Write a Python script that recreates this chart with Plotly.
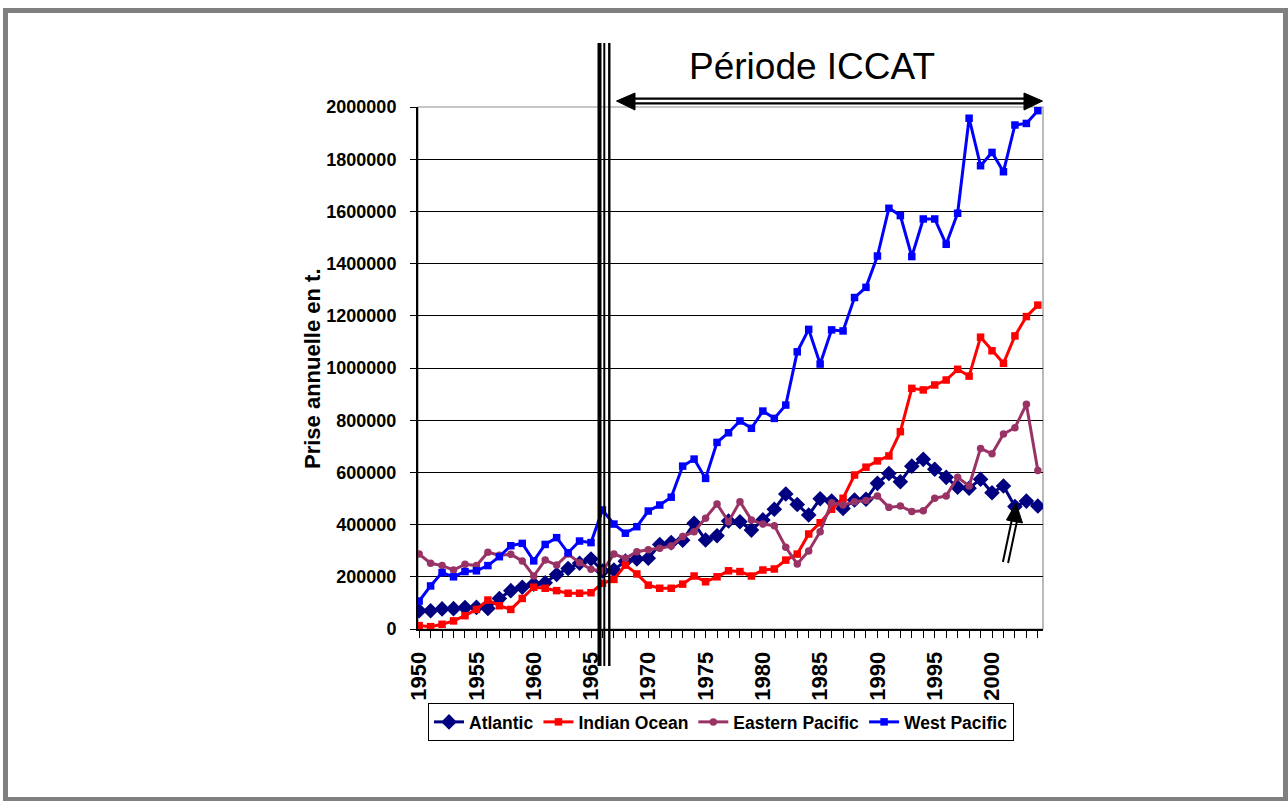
import plotly.graph_objects as go

years = list(range(1950, 2005))

atlantic = [70000, 70000, 77000, 78000, 82000, 83000, 79000, 117000, 147000, 160000,
            172000, 177000, 209000, 232000, 252000, 268000, 222000, 226000, 260000, 268000,
            271000, 324000, 331000, 340000, 405000, 341000, 357000, 414000, 411000, 379000,
            418000, 459000, 517000, 477000, 437000, 499000, 490000, 462000, 494000, 497000,
            558000, 596000, 564000, 624000, 650000, 612000, 581000, 543000, 539000, 574000,
            522000, 548000, 469000, 490000, 471000]

indian = [13000, 9000, 18000, 31000, 51000, 75000, 111000, 89000, 75000, 117000,
          160000, 156000, 147000, 137000, 137000, 139000, 175000, 190000, 245000, 211000,
          168000, 156000, 156000, 172000, 203000, 181000, 200000, 223000, 220000, 203000,
          226000, 230000, 264000, 287000, 364000, 407000, 459000, 501000, 590000, 620000,
          644000, 663000, 756000, 922000, 916000, 935000, 954000, 995000, 969000, 1118000,
          1066000, 1018000, 1123000, 1197000, 1241000]

east_pac = [287000, 252000, 243000, 226000, 248000, 243000, 294000, 283000, 286000, 261000,
            203000, 264000, 245000, 287000, 254000, 229000, 222000, 287000, 271000, 296000,
            304000, 309000, 318000, 354000, 373000, 424000, 479000, 411000, 488000, 418000,
            402000, 396000, 313000, 249000, 299000, 373000, 484000, 475000, 488000, 492000,
            510000, 466000, 471000, 450000, 453000, 501000, 510000, 581000, 548000, 692000,
            671000, 747000, 771000, 861000, 607000]

west_pac = [107000, 165000, 216000, 200000, 220000, 223000, 243000, 277000, 319000, 328000,
            261000, 324000, 350000, 292000, 337000, 331000, 456000, 402000, 367000, 392000,
            452000, 475000, 505000, 624000, 651000, 577000, 715000, 752000, 797000, 769000,
            835000, 807000, 858000, 1062000, 1148000, 1015000, 1146000, 1142000, 1270000, 1309000,
            1429000, 1612000, 1584000, 1427000, 1571000, 1571000, 1474000, 1593000, 1957000, 1775000,
            1826000, 1752000, 1931000, 1937000, 1986000]

series_names = ["Atlantic", "Indian Ocean", "Eastern Pacific", "West Pacific"]
series_values = [atlantic, indian, east_pac, west_pac]
series_colors = ["#000080", "#FF0000", "#993366", "#0000FF"]
series_symbols = ["diamond", "square", "circle", "square"]
series_sizes = [12, 7.5, 7.5, 7.5]

y_ticks = list(range(0, 2000001, 200000))
x_tick_text = [str(y) if y % 5 == 0 else "" for y in years]

FONT = "Liberation Sans, Arial, sans-serif"

# plot area in pixels
L, R, T, B = 418, 1043, 107, 629
W, H = 1288, 801


def PX(x):
    return (x - L) / (R - L)


def PY(y):
    return (B - y) / (B - T)


fig = go.Figure()
for name, vals, col, sym, sz in zip(series_names, series_values, series_colors,
                                    series_symbols, series_sizes):
    fig.add_trace(go.Scatter(
        x=years, y=vals, name=name, mode="lines+markers",
        line=dict(color=col, width=3),
        marker=dict(symbol=sym, size=sz, color=col),
    ))

shapes = []
# outer grey frame
shapes.append(dict(type="rect", xref="paper", yref="paper",
                   x0=PX(5.5), x1=PX(1285.5), y0=PY(10.5), y1=PY(799.5),
                   line=dict(color="#808080", width=5), layer="below"))
# plot area border (grey)
shapes.append(dict(type="rect", xref="paper", yref="paper", x0=0, x1=1, y0=0, y1=1,
                   line=dict(color="#909090", width=1.2), layer="below"))
# triple vertical line at 1966
for xp, w in [(599.5, 4), (604.3, 2), (609.3, 2.4)]:
    shapes.append(dict(type="line", xref="paper", yref="paper",
                       x0=PX(xp), x1=PX(xp), y0=PY(43), y1=PY(666),
                       line=dict(color="black", width=w), layer="above"))
# double-headed double-line arrow
for yy in (98.6, 103.4):
    shapes.append(dict(type="line", xref="paper", yref="paper",
                       x0=PX(630), x1=PX(1028), y0=PY(yy), y1=PY(yy),
                       line=dict(color="black", width=2.4), layer="above"))


def tri(pts):
    s = "M " + " L ".join(f"{PX(a)},{PY(b)}" for a, b in pts) + " Z"
    return dict(type="path", xref="paper", yref="paper", path=s,
                fillcolor="black", line=dict(color="black", width=1), layer="above")


shapes.append(tri([(616.5, 101), (635, 93), (635, 110)]))
shapes.append(tri([(1042.5, 101), (1024, 93), (1024, 110)]))
# small arrow near 2002
shapes.append(tri([(1016, 503), (1006.5, 520), (1022.5, 523)]))
for dx in (-2.6, 2.6):
    shapes.append(dict(type="line", xref="paper", yref="paper",
                       x0=PX(1005.5 + dx), x1=PX(1014.5 + dx),
                       y0=PY(562.5 + dx * 0.18), y1=PY(520 + dx * 0.18),
                       line=dict(color="black", width=2), layer="above"))

annotations = [
    dict(text="Période ICCAT", xref="paper", yref="paper", x=PX(812), y=PY(66),
         showarrow=False, font=dict(family=FONT, size=37, color="black"),
         xanchor="center", yanchor="middle"),
    dict(text="<b>Prise annuelle en t.</b>", xref="paper", yref="paper",
         x=PX(312), y=PY(369), textangle=-90, showarrow=False,
         font=dict(family=FONT, size=22, color="black"),
         xanchor="center", yanchor="middle"),
]

fig.update_layout(
    width=W, height=H,
    margin=dict(l=L, r=W - R, t=T, b=H - B, pad=0),
    paper_bgcolor="white", plot_bgcolor="white",
    font=dict(family=FONT, color="black"),
    shapes=shapes, annotations=annotations,
    showlegend=True,
    legend=dict(orientation="h", x=PX(428), y=PY(703), xanchor="left", yanchor="top",
                bordercolor="black", borderwidth=1, bgcolor="white",
                font=dict(family=FONT, size=17.5, color="black", weight="bold"),
                itemwidth=30, tracegroupgap=0),
    xaxis=dict(range=[1949.9, 2004.45], tickmode="array", tickvals=years,
               ticktext=x_tick_text, tickangle=-90, ticks="outside", ticklen=7,
               tickcolor="black", tickwidth=1.2, showline=True, linecolor="black",
               linewidth=2, showgrid=False, zeroline=False,
               tickfont=dict(family=FONT, size=22, color="black", weight="bold"),
               ticklabelstandoff=5),
    yaxis=dict(range=[0, 2000000], tickmode="array", tickvals=y_ticks,
               ticktext=[str(v) for v in y_ticks], ticks="outside", ticklen=6,
               tickcolor="black", showline=True, linecolor="black", linewidth=2,
               showgrid=True, gridcolor="black", gridwidth=1, zeroline=False,
               tickfont=dict(family=FONT, size=18, color="black", weight="bold"),
               ticklabelstandoff=10),
)

fig.write_html("out.html",
               config={"displayModeBar": False},
               post_script="document.body.style.margin='0px';"
                           "document.body.style.overflow='hidden';")
